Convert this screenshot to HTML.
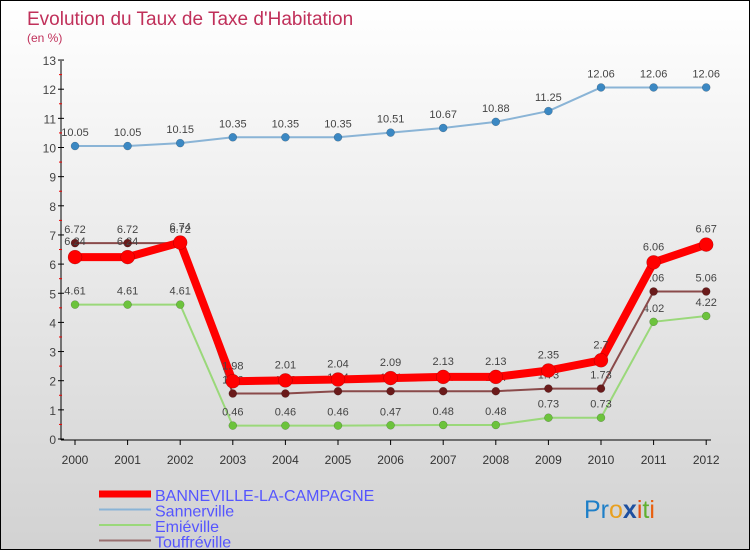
<!DOCTYPE html>
<html><head><meta charset="utf-8"><style>
body{margin:0}
#c{width:748px;height:548px;border:1px solid #000;background:linear-gradient(#fff,#d2d2d2);position:relative;font-family:"Liberation Sans",sans-serif;overflow:hidden}
</style></head><body>
<div id="c">
<svg id="s" width="748" height="548"></svg>
</div>
<script>
const years=["2000","2001","2002","2003","2004","2005","2006","2007","2008","2009","2010","2011","2012"];
const banneville=[6.24,6.24,6.74,1.98,2.01,2.04,2.09,2.13,2.13,2.35,2.7,6.06,6.67];
const sannerville=[10.05,10.05,10.15,10.35,10.35,10.35,10.51,10.67,10.88,11.25,12.06,12.06,12.06];
const emieville=[4.61,4.61,4.61,0.46,0.46,0.46,0.47,0.48,0.48,0.73,0.73,4.02,4.22];
const touffreville=[6.72,6.72,6.72,1.56,1.56,1.64,1.64,1.64,1.64,1.73,1.73,5.06,5.06];
const yTicks=[0,1,2,3,4,5,6,7,8,9,10,11,12,13];
const NS="http://www.w3.org/2000/svg";
const s=document.getElementById('s');
const X=i=>74+i*52.6, Y=v=>438-v*29.15;
function el(t,a,name,p){const e=document.createElementNS(NS,t);for(const k in a)e.setAttribute(k,a[k]);


(p||s).appendChild(e);return e;}
function txt(x,y,str,sz,fill,anchor,name){const t=el('text',{x:x,y:y,'font-size':sz,fill:fill,'text-anchor':anchor||'start'},name);t.textContent=str;return t;}
txt(26,24,"Evolution du Taux de Taxe d'Habitation",19,'#c0305a','start','chart-title');
txt(26,41,"(en %)",12,'#c0305a','start','chart-subtitle');
el('line',{x1:60,y1:60,x2:60,y2:439,stroke:'#000'},'y-axis');
el('line',{x1:60,y1:439,x2:710,y2:439,stroke:'#000'},'x-axis');
yTicks.forEach(v=>{el('line',{x1:57,x2:63,y1:Y(v),y2:Y(v),stroke:'#000'},'y-tick');
txt(55,Y(v)+5,String(v),12,'#444','end','y-tick-label');
if(v<13)el('line',{x1:58,x2:61,y1:Y(v+0.5),y2:Y(v+0.5),stroke:'#e00'},'y-minor-tick');});
years.forEach((y,i)=>{el('line',{x1:X(i),x2:X(i),y1:439,y2:444,stroke:'#000'},'x-tick');
txt(X(i),463,y,12,'#333','middle','x-tick-label');});
function series(d,col,pcol,w,r,name,lblOff){
el('polyline',{points:d.map((v,i)=>X(i)+','+Y(v)).join(' '),fill:'none',stroke:col,'stroke-width':w,'stroke-linejoin':'round'},name+'-line');
d.forEach((v,i)=>{el('circle',{cx:X(i),cy:Y(v),r:r,fill:pcol,stroke:'rgba(0,0,0,0.3)','stroke-width':0.5},name+'-point');
txt(X(i),Y(v)-lblOff,String(v),11,'#444','middle',name+'-label');});}
series(sannerville,'#8ab4d6','#3b88c3',2,4,'sannerville',10);
series(emieville,'#9ad87a','#6cc33c',2,4,'emieville',10);
series(touffreville,'#8a4a4a','#6a1a1a',2,4,'touffreville',10);
series(banneville,'#f00','#f00',8,7,'banneville',12);
const leg=[['BANNEVILLE-LA-CAMPAGNE','#f00',7],['Sannerville','#8ab4d6',2],['Emiéville','#9ad87a',2],['Touffréville','#9a7070',2]];
leg.forEach((l,i)=>{const y=493+i*15.5;
el('line',{x1:98,x2:150,y1:y,y2:y,stroke:l[1],'stroke-width':l[2]},'legend-swatch');
txt(154,y+7,l[0],16,'#55f','start','legend-entry');});
const logo=el('text',{x:583,y:517,'font-size':25},'proxiti-logo');
[['Pr','#1e7fc8','normal'],['o','#e8a020','normal'],['x','#1e50a0','bold'],['i','#e85010','normal'],['t','#60b030','normal'],['i','#e86010','normal']].forEach(c=>{
const sp=el('tspan',{fill:c[1],'font-weight':c[2]},'proxiti-logo-letter',logo);sp.textContent=c[0];});
</script>
</body></html>
